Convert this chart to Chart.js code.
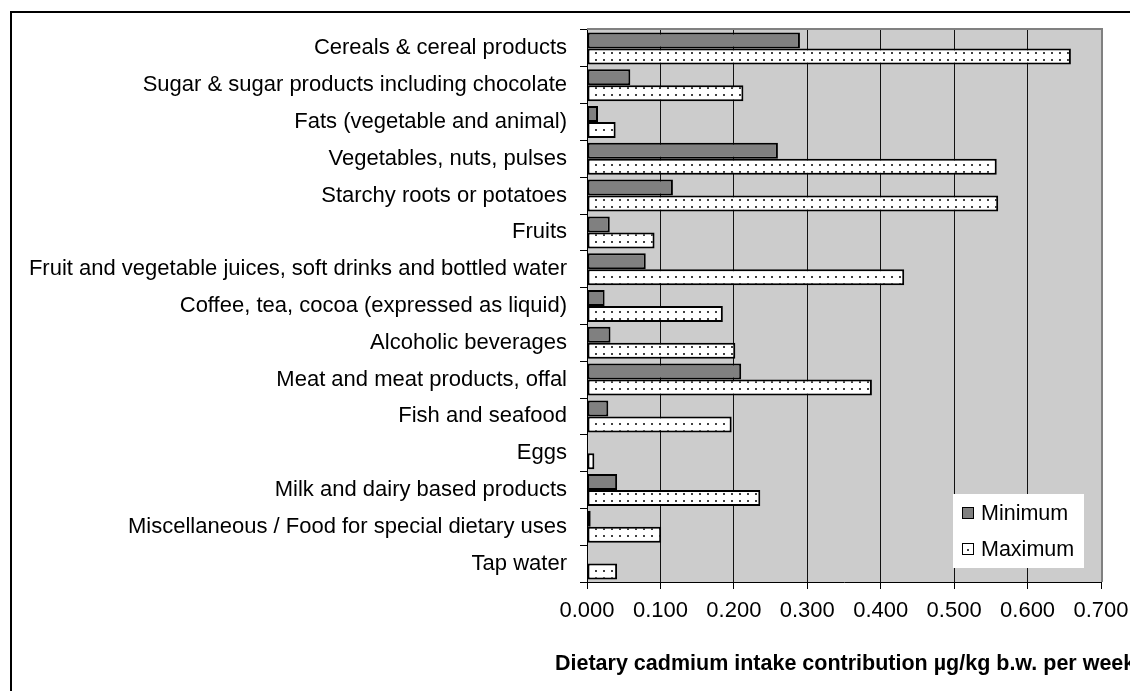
<!DOCTYPE html>
<html>
<head>
<meta charset="utf-8">
<script src="https://cdn.jsdelivr.net/npm/chart.js@4.4.1/dist/chart.umd.min.js"></script>
<style>
  html, body { margin: 0; padding: 0; background: #ffffff; }
  #wrap { position: relative; width: 1130px; height: 691px; }
</style>
</head>
<body>
<div id="wrap"><canvas id="c" width="1130" height="691"></canvas></div>
<script>
const categories = [
  'Cereals & cereal products',
  'Sugar & sugar products including chocolate',
  'Fats (vegetable and animal)',
  'Vegetables, nuts, pulses',
  'Starchy roots or potatoes',
  'Fruits',
  'Fruit and vegetable juices, soft drinks and bottled water',
  'Coffee, tea, cocoa (expressed as liquid)',
  'Alcoholic beverages',
  'Meat and meat products, offal',
  'Fish and seafood',
  'Eggs',
  'Milk and dairy based products',
  'Miscellaneous / Food for special dietary uses',
  'Tap water'
];
const minimumValues = [0.290, 0.059, 0.015, 0.260, 0.117, 0.031, 0.080, 0.024, 0.032, 0.210, 0.029, 0, 0.041, 0.005, 0];
const maximumValues = [0.659, 0.213, 0.039, 0.558, 0.560, 0.092, 0.432, 0.185, 0.202, 0.388, 0.197, 0.010, 0.236, 0.101, 0.041];
const tickLabels = ['0.000', '0.100', '0.200', '0.300', '0.400', '0.500', '0.600', '0.700'];
const seriesNames = ['Minimum', 'Maximum'];
const axisTitle = 'Dietary cadmium intake contribution \u00b5g/kg b.w. per week';

const FONT = "'Liberation Sans', Arial, sans-serif";

function makeDots() {
  const p = document.createElement('canvas');
  p.width = 8; p.height = 14;
  const g = p.getContext('2d');
  g.fillStyle = '#ffffff';
  g.fillRect(0, 0, 8, 14);
  g.fillStyle = '#404040';
  g.fillRect(3, 3, 2, 2);
  g.fillRect(3, 10, 2, 2);
  return g.createPattern(p, 'repeat');
}
const dotPattern = makeDots();

const framePlugin = {
  id: 'framePlugin',
  beforeDraw(chart) {
    const ctx = chart.ctx;
    const a = chart.chartArea;
    ctx.save();
    ctx.fillStyle = '#ffffff';
    ctx.fillRect(0, 0, chart.width, chart.height);
    ctx.fillStyle = '#000000';
    ctx.fillRect(10, 11, 2, chart.height - 11);
    ctx.fillRect(10, 11, chart.width - 10, 2);
    ctx.fillStyle = '#cccccc';
    ctx.fillRect(a.left, a.top, a.right - a.left, a.bottom - a.top);
    ctx.restore();
  },
  afterDraw(chart) {
    const ctx = chart.ctx;
    const a = chart.chartArea;
    ctx.save();
    ctx.strokeStyle = '#808080';
    ctx.lineWidth = 2;
    ctx.beginPath();
    ctx.moveTo(a.left, a.top - 1);
    ctx.lineTo(a.right + 1, a.top - 1);
    ctx.lineTo(a.right + 1, a.bottom);
    ctx.stroke();

    // legend
    const lx = 953, ly = 494, lw = 131, lh = 74;
    ctx.fillStyle = '#ffffff';
    ctx.fillRect(lx, ly, lw, lh);
    ctx.font = '21.5px ' + FONT;
    ctx.textBaseline = 'middle';
    ctx.textAlign = 'left';
    const rows = [513, 549];
    chart.data.datasets.forEach((ds, i) => {
      const y = rows[i];
      ctx.fillStyle = i === 0 ? ds.backgroundColor : '#ffffff';
      ctx.fillRect(962, y - 6, 12, 12);
      ctx.strokeStyle = '#000000';
      ctx.lineWidth = 1;
      ctx.strokeRect(962.5, y - 5.5, 11, 11);
      if (i === 1) {
        ctx.fillStyle = '#404040';
        ctx.fillRect(967, y, 2, 2);
      }
      ctx.fillStyle = '#000000';
      ctx.fillText(ds.label, 981, y + 1);
    });

    // axis title
    ctx.font = 'bold 21.5px ' + FONT;
    ctx.textBaseline = 'alphabetic';
    ctx.fillStyle = '#000000';
    ctx.fillText(axisTitle, 555, 670);
    ctx.restore();
  }
};

new Chart(document.getElementById('c'), {
  type: 'bar',
  data: {
    labels: categories,
    datasets: [
      {
        label: seriesNames[0],
        data: minimumValues,
        backgroundColor: '#808080',
        borderColor: '#000000',
        borderWidth: 2,
        borderSkipped: false,
        categoryPercentage: 0.87,
        barPercentage: 1.0
      },
      {
        label: seriesNames[1],
        data: maximumValues,
        backgroundColor: dotPattern,
        borderColor: '#000000',
        borderWidth: 2,
        borderSkipped: false,
        categoryPercentage: 0.87,
        barPercentage: 1.0
      }
    ]
  },
  options: {
    indexAxis: 'y',
    responsive: false,
    animation: false,
    devicePixelRatio: 1,
    layout: { padding: { top: 30, right: 29, left: 0, bottom: 0 } },
    plugins: {
      legend: { display: false },
      tooltip: { enabled: false },
      title: { display: false }
    },
    scales: {
      x: {
        type: 'linear',
        min: 0,
        max: 0.7,
        afterFit(scale) {
          scale.height = 109;
          scale.paddingLeft = 0;
          scale.paddingRight = 0;
        },
        ticks: {
          stepSize: 0.1,
          color: '#000000',
          font: { family: FONT, size: 22 },
          padding: 9,
          maxRotation: 0,
          autoSkip: false,
          callback: (v, i) => tickLabels[i]
        },
        grid: {
          color: (c) => (c.index === tickLabels.length - 1 ? '#808080' : '#111111'),
          lineWidth: 1,
          drawTicks: true,
          tickLength: 7,
          tickColor: '#000000'
        },
        border: { display: true, color: '#000000', width: 1 }
      },
      y: {
        afterFit(scale) {
          scale.width = 587;
          scale.paddingTop = 0;
          scale.paddingBottom = 0;
        },
        ticks: {
          color: '#000000',
          font: { family: FONT, size: 22 },
          padding: 13,
          autoSkip: false
        },
        grid: {
          drawOnChartArea: false,
          drawTicks: true,
          tickLength: 7,
          color: '#000000',
          offset: true
        },
        border: { display: true, color: '#000000', width: 1 }
      }
    }
  },
  plugins: [framePlugin]
});
</script>
</body>
</html>
